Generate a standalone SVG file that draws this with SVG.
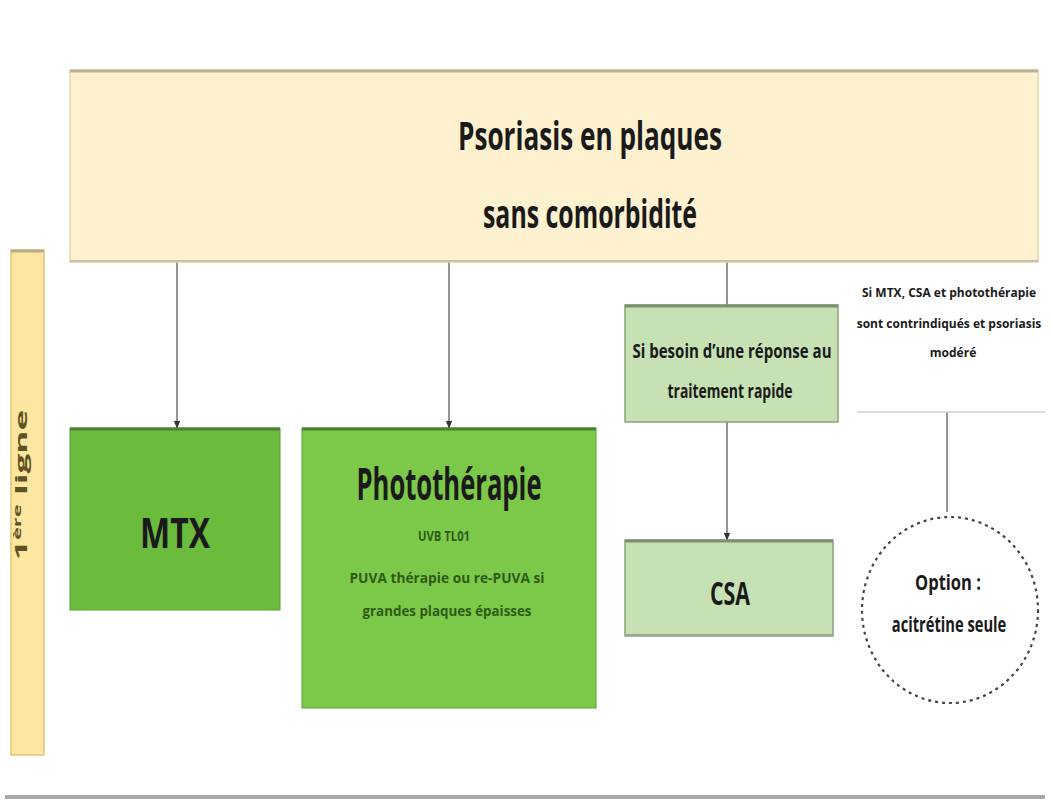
<svg xmlns="http://www.w3.org/2000/svg" width="1051" height="810" viewBox="0 0 1051 810">
<style>
.t{font-family:"Open Sans","Liberation Sans",sans-serif;font-weight:bold;text-anchor:middle;fill:#1a1a1a}
.s{fill:#2f5a16}
.c{stroke:#7a7a7a;stroke-width:1.6;fill:none}
</style>
<defs>
<marker id="ah" viewBox="0 0 10 10" refX="9" refY="5" markerWidth="5" markerHeight="5" orient="auto"><path d="M0,1 L10,5 L0,9 z" fill="#333"/></marker>
</defs>
<rect width="1051" height="810" fill="#ffffff"/>
<g id="side-label">
<rect x="11" y="250" width="33" height="505" fill="#fde6a0" stroke="#e3c578" stroke-width="1.5"/>
<line x1="11" y1="251" x2="44" y2="251" stroke="#b8ab88" stroke-width="3"/>
<text class="t" transform="translate(27,485) rotate(-90) scale(2.2,1)" font-size="16" style="fill:#5e5224">1<tspan font-size="10" dy="-6">ère</tspan><tspan dy="6"> ligne</tspan></text>
</g>
<g id="connectors">
<line class="c" x1="177" y1="262" x2="177" y2="428" marker-end="url(#ah)"/>
<line class="c" x1="449" y1="262" x2="449" y2="428" marker-end="url(#ah)"/>
<line class="c" x1="727" y1="262" x2="727" y2="305"/>
<line class="c" x1="727" y1="422" x2="727" y2="540" marker-end="url(#ah)"/>
<line class="c" x1="947" y1="412" x2="947" y2="512"/>
</g>
<g id="top">
<rect x="70" y="70" width="968" height="192" fill="#fdf1cf" stroke="#e2d6b0" stroke-width="1.5"/>
<line x1="70" y1="71" x2="1038" y2="71" stroke="#bcb196" stroke-width="3"/>
<line x1="70" y1="261" x2="1038" y2="261" stroke="#c9c0a4" stroke-width="2"/>
<text class="t" x="590" y="150" font-size="40" textLength="264" lengthAdjust="spacingAndGlyphs">Psoriasis en plaques</text>
<text class="t" x="590" y="228" font-size="40" textLength="214" lengthAdjust="spacingAndGlyphs">sans comorbidité</text>
</g>
<g id="mtx">
<rect x="70" y="428" width="210" height="182" fill="#6bbb3c" stroke="#5b9a35" stroke-width="1"/>
<line x1="70" y1="429" x2="280" y2="429" stroke="#4f7f34" stroke-width="3"/>
<text class="t" x="175" y="548" font-size="42" textLength="70" lengthAdjust="spacingAndGlyphs">MTX</text>
</g>
<g id="photo">
<rect x="302" y="428" width="294" height="280" fill="#7cc94a" stroke="#5e9c3a" stroke-width="1"/>
<line x1="302" y1="429" x2="596" y2="429" stroke="#4f7f34" stroke-width="3"/>
<text class="t" x="449" y="500" font-size="44" textLength="185" lengthAdjust="spacingAndGlyphs">Photothérapie</text>
<text class="t s" x="444" y="541" font-size="15" textLength="52" lengthAdjust="spacingAndGlyphs">UVB TL01</text>
<text class="t s" x="447" y="583" font-size="15" textLength="195" lengthAdjust="spacingAndGlyphs">PUVA thérapie ou re-PUVA si</text>
<text class="t s" x="447" y="616" font-size="15" textLength="169" lengthAdjust="spacingAndGlyphs">grandes plaques épaisses</text>
</g>
<g id="besoin">
<rect x="625" y="305" width="213" height="117" fill="#c6e1b4" stroke="#8aa37c" stroke-width="1.5"/>
<line x1="625" y1="306" x2="838" y2="306" stroke="#7d8f72" stroke-width="3"/>
<text class="t" x="732" y="358" font-size="19" textLength="199" lengthAdjust="spacingAndGlyphs">Si besoin d’une réponse au</text>
<text class="t" x="730" y="398" font-size="19" textLength="125" lengthAdjust="spacingAndGlyphs">traitement rapide</text>
</g>
<g id="contre">
<line x1="857" y1="412" x2="1045" y2="412" stroke="#d0d0d0" stroke-width="1.5"/>
<text class="t" x="949" y="297" font-size="12">Si MTX, CSA et photothérapie</text>
<text class="t" x="949" y="328" font-size="12">sont contrindiqués et psoriasis</text>
<text class="t" x="953" y="357" font-size="12">modéré</text>
</g>
<g id="csa">
<rect x="625" y="540" width="208" height="96" fill="#c6e1b4" stroke="#8aa37c" stroke-width="1.5"/>
<line x1="625" y1="541" x2="833" y2="541" stroke="#7d8f72" stroke-width="3"/>
<line x1="625" y1="635" x2="833" y2="635" stroke="#9aa88e" stroke-width="2"/>
<text class="t" x="730" y="605" font-size="32" textLength="40" lengthAdjust="spacingAndGlyphs">CSA</text>
</g>
<g id="option">
<ellipse cx="950" cy="610" rx="88" ry="93" fill="#ffffff" stroke="#444" stroke-width="2.2" stroke-dasharray="3 4"/>
<text class="t" transform="translate(948,590) scale(0.75,1)" font-size="22">Option :</text>
<text class="t" transform="translate(949,632) scale(0.7,1)" font-size="21">acitrétine seule</text>
</g>
<line x1="5" y1="797" x2="1045" y2="797" stroke="#a8a8a8" stroke-width="4"/>
</svg>
